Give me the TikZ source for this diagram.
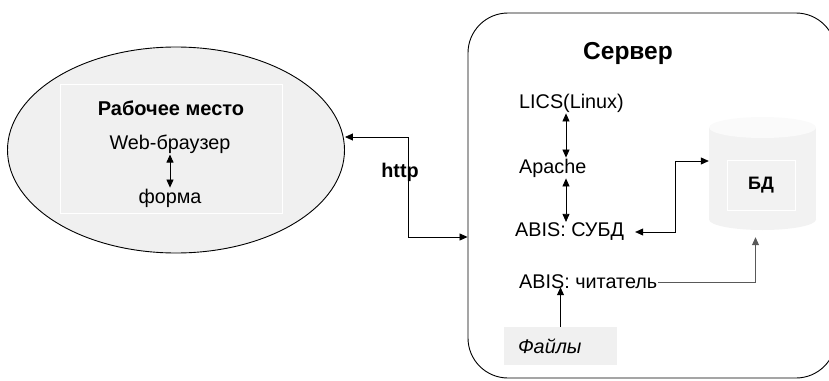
\documentclass[tikz,border=0pt]{standalone}
\usepackage{fontspec}
\setmainfont{Liberation Sans}
\usetikzlibrary{positioning,arrows.meta,shapes.geometric}

\begin{document}
\begin{tikzpicture}[x=1pt, y=-1pt,
    every node/.style={font=\fontsize{19.8}{22}\selectfont, inner sep=1pt},
    hdr/.style={font=\fontsize{20}{23}\selectfont\bfseries},
    panel/.style={draw, line width=0.9pt},
    innerbox/.style={draw=white, line width=0.6pt},
    link/.style={line width=0.8pt, -{Triangle[length=8pt,width=7pt]}},
    dlink/.style={line width=0.8pt, {Triangle[length=8pt,width=7pt]}-{Triangle[length=8pt,width=7pt]}}
]
  \clip (0,0) rectangle (829,380);
  % workstation
  \node[panel, ellipse, fill=black!6, minimum width=337pt, minimum height=206pt] (ws) at (176,150) {};
  \node[innerbox, minimum width=222pt, minimum height=129pt] (wsbox) at (171,148.5) {};
  \node[hdr] (wstitle) at (171,108) {Рабочее место};
  \node (browser) at (170,144) {Web-браузер};
  \node (form) at (170,198) {форма};
  \draw[dlink] (browser.south) -- (form.north);

  % server
  \node[panel, rounded corners=40pt, minimum width=368pt, minimum height=365pt] (server) at (652,195.5) {};
  \node[hdr, font=\fontsize{24.5}{27}\selectfont\bfseries] (srvtitle) at (628,53) {Сервер};
  \node[anchor=west] (lics) at (518,103) {LICS(Linux)};
  \node[anchor=west] (apache) at (518,168) {Apache};
  \node[anchor=west] (subd) at (514,232) {ABIS: СУБД};
  \node[anchor=west] (reader) at (518,282) {ABIS: читатель};
  \node[fill=black!6, text width=85pt, inner xsep=14pt, minimum height=38pt, align=left,
        font=\fontsize{19.8}{22}\selectfont\itshape] (files) at (560.5,346) {Файлы};
  \coordinate (spine) at (566,0);
  \draw[dlink] (spine |- lics.south) -- (spine |- apache.north);
  \draw[dlink] (spine |- apache.south) -- (spine |- subd.north);
  \draw[link] (files.north) -- ([yshift=3pt]files.north |- reader.south);

  % database
  \node[minimum width=107pt, minimum height=113pt] (db) at (762.5,173.5) {};
  \fill[black!5] (709,127.5) rectangle (816,219.5);
  \fill[black!5] (762.5,219.5) ellipse[x radius=53.5, y radius=10.5];
  \fill[black!2] (762.5,127.5) ellipse[x radius=53.5, y radius=10.5];
  \node[innerbox, minimum width=68pt, minimum height=50pt, font=\fontsize{18}{20}\selectfont\bfseries] (dbbox) at (761,185) {БД};
  \draw[dlink] ([xshift=10pt]subd.east) -- ++(40,0) |- ([yshift=12.5pt]db.west);
  \draw[link, draw=black!65] (reader.east) -| ([xshift=-7pt,yshift=-7pt]db.south);

  % http link
  \coordinate (hub) at (408,0);
  \draw[dlink] ([yshift=13pt]ws.east) -| ([yshift=-41.5pt]server.west -| hub) -- ([yshift=-41.5pt]server.west);
  \node[font=\fontsize{19.8}{22}\selectfont\bfseries] (http) at (400,172) {http};
\end{tikzpicture}
\end{document}
